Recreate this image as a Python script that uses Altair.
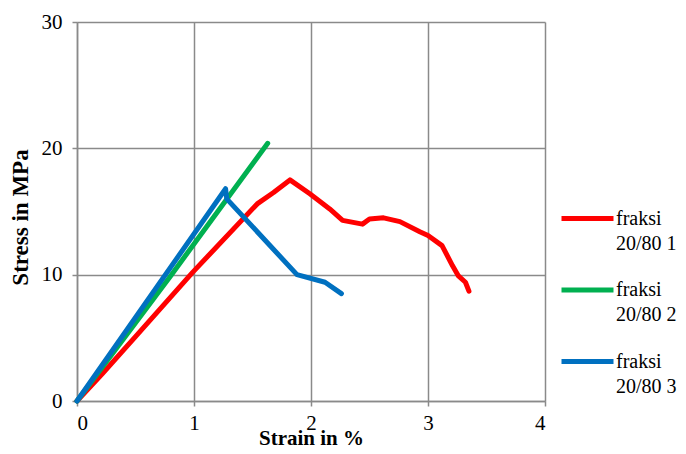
import altair as alt
import pandas as pd

series_names = ["fraksi 20/80 1", "fraksi 20/80 2", "fraksi 20/80 3"]
series_colors = ["#FF0000", "#00B050", "#0070C0"]

red_strain = [0, 0.22, 0.5, 0.99, 1.54, 1.68, 1.82, 1.99, 2.16, 2.27, 2.44, 2.50, 2.62, 2.76, 2.93, 3.0, 3.12, 3.21, 3.26, 3.32, 3.35]
red_stress = [0, 2.2, 5.1, 10.2, 15.6, 16.5, 17.5, 16.4, 15.2, 14.3, 14.0, 14.4, 14.5, 14.2, 13.4, 13.1, 12.3, 10.7, 9.9, 9.4, 8.7]

green_strain = [0, 0.8, 1.63]
green_stress = [0, 9.9, 20.4]

blue_strain = [0, 1.27, 1.28, 1.88, 2.12, 2.26]
blue_stress = [0, 16.8, 16.0, 10.0, 9.4, 8.5]

x_ticks = [0, 1, 2, 3, 4]
y_ticks = [0, 10, 20, 30]

rows = []
for name, xs, ys in zip(series_names,
                        [red_strain, green_strain, blue_strain],
                        [red_stress, green_stress, blue_stress]):
    for i, (a, b) in enumerate(zip(xs, ys)):
        rows.append({"series": name, "strain": a, "stress": b, "idx": i})
df = pd.DataFrame(rows)

FONT = "Liberation Serif"
GRID = "#8a8a8a"

chart = alt.Chart(df).mark_line(
    strokeWidth=5, strokeCap="round", strokeJoin="round"
).encode(
    x=alt.X("strain:Q", scale=alt.Scale(domain=[0, 4], nice=False),
            axis=alt.Axis(values=x_ticks, title="Strain in %", format="d",
                          titleY=43, titleBaseline="alphabetic", titleFontSize=21)),
    y=alt.Y("stress:Q", scale=alt.Scale(domain=[0, 30], nice=False),
            axis=alt.Axis(values=y_ticks, title="Stress in MPa", format="d",
                          titleX=-50, titleY=195, titleBaseline="alphabetic",
                          titleAlign="center", titleAngle=270, titleFontSize=23)),
    color=alt.Color("series:N",
                    scale=alt.Scale(domain=series_names, range=series_colors),
                    legend=alt.Legend(
                        title=None, orient="none", legendX=482, legendY=168,
                        symbolType="stroke", symbolStrokeWidth=5, symbolSize=2704,
                        labelFont=FONT, labelFontSize=20, labelColor="#000000",
                        labelBaseline="middle",
                        labelOffset=0, rowPadding=7.5, padding=0,
                        labelExpr="[split(datum.label, ' ')[0], split(datum.label, ' ')[1] + ' ' + split(datum.label, ' ')[2]]",
                    )),
    order="idx:Q",
).properties(
    width=468, height=379,
    autosize=alt.AutoSizeParams(type="none"),
    padding={"left": 69, "top": 14, "right": 133, "bottom": 44},
).configure(
    style={"guide-label": {"lineHeight": 25}},
).configure_view(
    stroke=None
).configure_axis(
    grid=True, gridColor=GRID, gridWidth=1.5, gridOpacity=1,
    domainColor=GRID, domainWidth=1.5,
    tickColor=GRID, tickWidth=1.5, tickSize=5,
    labelFont=FONT, labelFontSize=21, labelColor="#000000",
    titleFont=FONT, titleFontWeight="bold", titleColor="#000000",
).configure_axisX(
    labelPadding=6,
).configure_axisY(
    labelPadding=10,
)

chart.save("out.html", embed_options={"renderer": "svg", "actions": False})
